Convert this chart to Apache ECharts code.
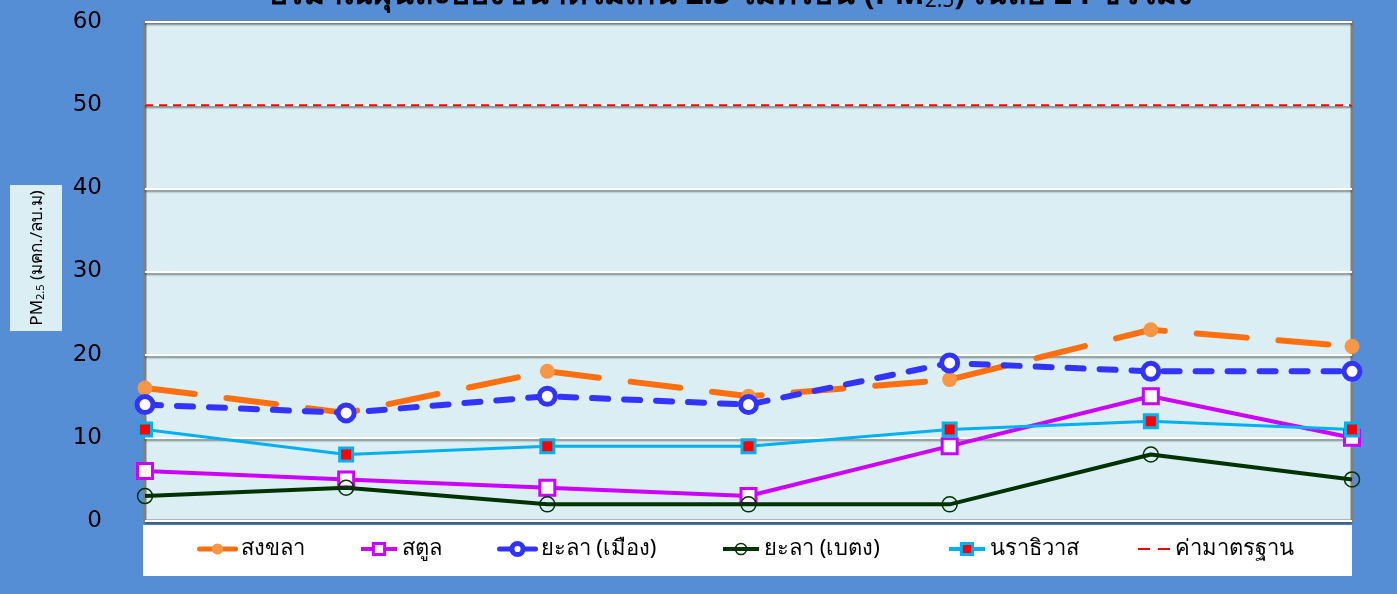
<!DOCTYPE html>
<html><head><meta charset="utf-8">
<script src="https://cdn.jsdelivr.net/npm/echarts@6/dist/echarts.min.js"></script>
<style>html,body{margin:0;padding:0;background:#558ED5}#c{width:1397px;height:594px}</style>
</head><body><div id="c"></div>
<script>
const categories = ['1','2','3','4','5','6','7'];
const songkhla = [16, 13, 18, 15, 17, 23, 21];
const satun = [6, 5, 4, 3, 9, 15, 10];
const yalaMueang = [14, 13, 15, 14, 19, 18, 18];
const yalaBetong = [3, 4, 2, 2, 2, 8, 5];
const narathiwat = [11, 8, 9, 9, 11, 12, 11];
const standard = [50, 50, 50, 50, 50, 50, 50];
const seriesNames = ['สงขลา', 'สตูล', 'ยะลา (เมือง)', 'ยะลา (เบตง)', 'นราธิวาส', 'ค่ามาตรฐาน'];
const yTicks = { min: 0, max: 60, interval: 10 };

const chart = echarts.init(document.getElementById('c'));
const FONT = '"Noto Sans", "DejaVu Sans", sans-serif';
const legendLefts = [197, 359, 497, 721, 947, 1137];
const legendWidths = [36, 36, 36, 36, 36, 32];
const legendLine = [
  { width: 5, type: 'solid' }, { width: 4, type: 'solid' }, { width: 5, type: 'solid' },
  { width: 4, type: 'solid' }, { width: 4, type: 'solid' }, { width: 2, type: [12, 8] }
];
const legendItem = [
  { color: '#F79646', borderWidth: 0 },
  { color: '#fff', borderColor: '#CC00FF', borderWidth: 3 },
  { color: '#fff', borderColor: '#3333FF', borderWidth: 5 },
  { color: 'rgba(0,0,0,0)', borderColor: '#003300', borderWidth: 1.5 },
  { color: '#FF0000', borderColor: '#00B0F0', borderWidth: 3 },
  { color: 'rgba(0,0,0,0)', borderWidth: 0 }
];
const legends = seriesNames.map((n, i) => ({
  data: [n], left: legendLefts[i], top: 538, padding: 0, itemWidth: legendWidths[i], itemHeight: 14, itemGap: 2,
  lineStyle: legendLine[i], itemStyle: legendItem[i],
  textStyle: { fontSize: 22, color: '#000', fontFamily: FONT }
}));
chart.setOption({
  backgroundColor: '#558ED5',
  animation: false,
  graphic: [
    { type: 'rect', shape: { x: 143, y: 525, width: 1209, height: 51 }, style: { fill: '#fff' }, z: -1 },
    { type: 'rect', shape: { x: 10, y: 185, width: 52, height: 146 }, style: { fill: '#DAEEF3' } },
    { type: 'text', x: 37, y: 258, rotation: Math.PI / 2,
      style: { text: '{a|PM}{s|2.5}{a| (มคก./ลบ.ม)}', align: 'center', verticalAlign: 'middle',
        rich: { a: { fontSize: 17, fontFamily: FONT, fill: '#000' }, s: { fontSize: 11, fontFamily: FONT, fill: '#000', padding: [8, 0, 0, 0] } } } },
    { type: 'text', x: 730, y: 12,
      style: { text: '{a|ปริมาณฝุ่นละอองขนาดไม่เกิน 2.5 ไมครอน (PM}{s|2.5}{a|) เฉลี่ย 24 ชั่วโมง}', align: 'center', verticalAlign: 'bottom',
        rich: { a: { fontSize: 32, fontWeight: 'bold', fontFamily: FONT, fill: '#000' }, s: { fontSize: 21, fontFamily: FONT, fill: '#000', padding: [14, 0, 0, 0] } } } }
  ],
  legend: legends,
  grid: { left: 145, right: 45, top: 22, bottom: 73, show: true, backgroundColor: '#DAEEF3', borderColor: '#808080', borderWidth: 3 },
  xAxis: { type: 'category', data: categories, boundaryGap: false,
    axisLine: { show: false }, axisTick: { show: false }, axisLabel: { show: false }, splitLine: { show: false } },
  yAxis: { type: 'value', min: yTicks.min, max: yTicks.max, interval: yTicks.interval,
    axisLine: { show: false }, axisTick: { show: false },
    axisLabel: { fontSize: 23, color: '#000', fontFamily: '"DejaVu Sans", sans-serif', margin: 43 },
    splitLine: { lineStyle: { color: '#fff', width: 2, shadowColor: 'rgba(0,0,0,0.45)', shadowOffsetY: 2, shadowBlur: 2 } } },
  series: [
    { name: seriesNames[0], type: 'line', data: songkhla, symbol: 'circle', symbolSize: 15,
      itemStyle: { color: '#F79646' }, lineStyle: { color: '#FF6F0F', width: 6, type: [50, 32], cap: 'round' }, z: 3 },
    { name: seriesNames[1], type: 'line', data: satun, symbol: 'rect', symbolSize: 15,
      itemStyle: { color: '#fff', borderColor: '#CC00FF', borderWidth: 3 }, lineStyle: { color: '#CC00FF', width: 4 }, z: 4 },
    { name: seriesNames[2], type: 'line', data: yalaMueang, symbol: 'circle', symbolSize: 16,
      itemStyle: { color: '#fff', borderColor: '#3333FF', borderWidth: 5 }, lineStyle: { color: '#3333FF', width: 6, type: [16, 16], cap: 'round' }, z: 3 },
    { name: seriesNames[3], type: 'line', data: yalaBetong, symbol: 'circle', symbolSize: 15,
      itemStyle: { color: 'rgba(0,0,0,0)', borderColor: '#003300', borderWidth: 1.5 }, lineStyle: { color: '#003300', width: 4 }, z: 5 },
    { name: seriesNames[4], type: 'line', data: narathiwat, symbol: 'rect', symbolSize: 13,
      itemStyle: { color: '#FF0000', borderColor: '#00B0F0', borderWidth: 3 }, lineStyle: { color: '#00B0F0', width: 3 }, z: 4 },
    { name: seriesNames[5], type: 'line', data: standard, symbol: 'none',
      itemStyle: { color: '#FF0000' }, lineStyle: { color: '#FF0000', width: 2, type: [8, 6] }, z: 2 }
  ]
});
</script></body></html>
